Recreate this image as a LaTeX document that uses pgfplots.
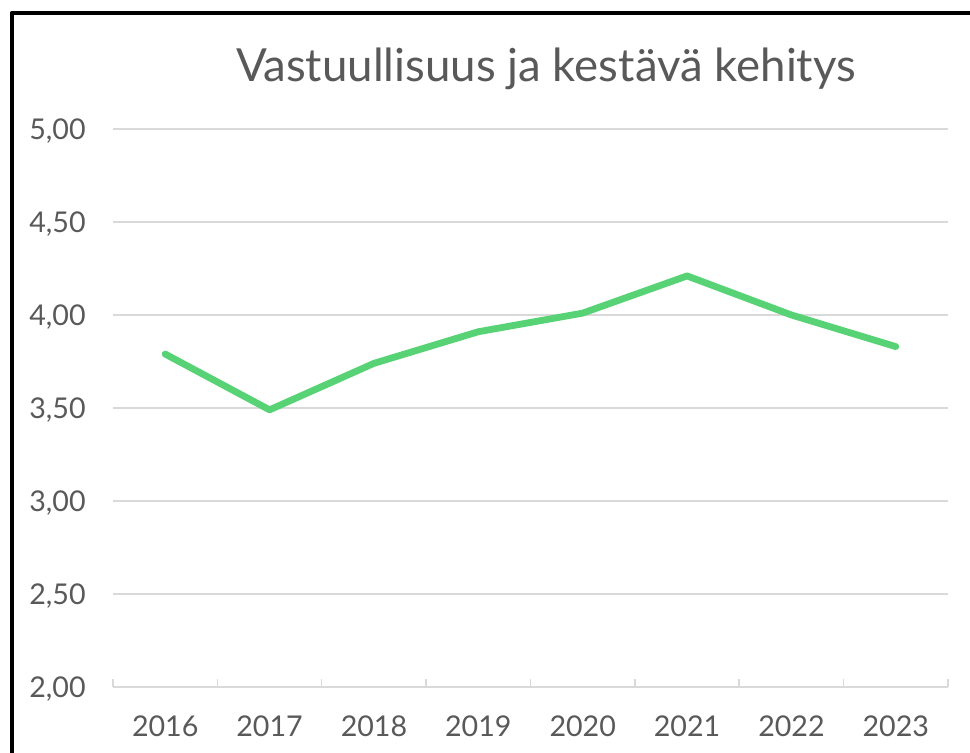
\documentclass[border=0pt]{standalone}
\usepackage{fontspec}
\setmainfont{Lato}
\usepackage{pgfplots}
\pgfplotsset{compat=1.18}
\definecolor{txtgray}{HTML}{595959}
\definecolor{gridgray}{HTML}{D9D9D9}
\definecolor{linegreen}{HTML}{57D375}
\begin{document}
\begin{tikzpicture}
\path[use as bounding box] (0,0) rectangle (485pt,376.5pt);
\fill[white] (0,0) rectangle (485pt,376.5pt);
\draw[line width=2pt, line join=round] (5.75pt,-3pt) -- (5.75pt,370pt) -- (490pt,370pt);
\node[anchor=base, text=txtgray, font=\fontsize{22.8}{27}\selectfont, inner sep=0pt] at (273pt,335.5pt) {Vastuullisuus ja kestävä kehitys};
\begin{axis}[
  at={(56.5pt,33pt)}, anchor=south west,
  scale only axis, width=417.5pt, height=279pt,
  xmin=-0.5, xmax=7.5, ymin=2, ymax=5,
  ytick={2,2.5,...,5},
  xtick={0,...,7},
  xticklabels={2016,2017,2018,2019,2020,2021,2022,2023},
  minor xtick={-0.5,0.5,...,7.5},
  axis lines*=left,
  y axis line style={draw=none},
  x axis line style={gridgray, line width=0.75pt},
  ymajorgrids,
  major grid style={gridgray, line width=0.75pt},
  ytick style={draw=none},
  major x tick style={draw=none},
  minor x tick style={gridgray, line width=0.75pt},
  minor tick length=4pt,
  tick align=inside,
  tick label style={text=txtgray, font=\fontsize{14.3}{16}\selectfont},
  yticklabel style={anchor=base east, inner sep=0pt, xshift=-13.5pt, yshift=-5.5pt},
  xticklabel style={anchor=base, inner sep=0pt, yshift=-25pt},
  /pgf/number format/.cd, use comma, fixed, fixed zerofill, precision=2, assume math mode=true,
  /pgfplots/.cd,
  clip=false,
]
\addplot[linegreen, line width=3.4pt, line join=round, line cap=round, mark=none]
coordinates {(0,3.79) (1,3.49) (2,3.74) (3,3.91) (4,4.01) (5,4.21) (6,4.00) (7,3.83)};
\end{axis}
\end{tikzpicture}
\end{document}
